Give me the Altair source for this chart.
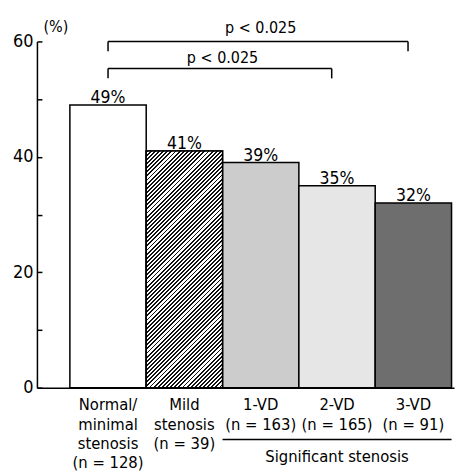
import math
import altair as alt
import pandas as pd

# ---------------- data ----------------
categories = [
    "Normal/|minimal|stenosis|(n = 128)",
    "Mild|stenosis|(n = 39)",
    "1-VD|(n = 163)",
    "2-VD|(n = 165)",
    "3-VD|(n = 91)",
]
values = [49, 41, 39, 35, 32]
value_labels = ["49%", "41%", "39%", "35%", "32%"]

bracket_from = [categories[0], categories[0]]
bracket_to = [categories[4], categories[3]]
bracket_y = [60.0, 55.3]
bracket_tip = [58.3, 53.6]
p_labels = ["p < 0.025", "p < 0.025"]
p_label_y = [61.4, 56.2]

group_label = ["Significant stenosis"]
group_from = [categories[2]]
group_to = [categories[4]]
group_mid = [categories[3]]
group_line_y = [-9.0]
group_text_y = [-12.8]

y_label_values = [0, 20, 40, 60]
y_tick_values = [0, 10, 20, 30, 40, 50, 60]

# ---------------- style ----------------
W, H = 418, 347
PAD_OUTER, ALIGN = 0.232, 0.93
FONT = "Liberation Sans Narrow, Arial Narrow, DejaVu Sans Condensed, sans-serif"
fills = ["#ffffff", "#ffffff", "#cccccc", "#e6e6e6", "#6e6e6e"]

df = pd.DataFrame({"cat": categories, "v": values, "lab": value_labels})
br = pd.DataFrame({"from": bracket_from, "to": bracket_to, "y": bracket_y,
                   "tip": bracket_tip, "p": p_labels, "py": p_label_y})
grp = pd.DataFrame({"from": group_from, "to": group_to, "mid": group_mid,
                    "ly": group_line_y, "ty": group_text_y, "t": group_label})

xscale = alt.Scale(domain=categories, paddingInner=0, paddingOuter=PAD_OUTER, align=ALIGN)
yscale = alt.Scale(domain=[0, 60], nice=False, zero=False)
xaxis = alt.Axis(title=None, labelExpr="split(datum.label, '|')", labelAngle=0,
                 labelFont=FONT, labelFontSize=16.5, labelColor="black",
                 labelLineHeight=19.5, labelBaseline="top", labelPadding=9,
                 tickSize=0, domainColor="black", domainWidth=1.5, labelAlign="center")

# hatch gradient for the "Mild stenosis" bar (diagonal "/" lines)
step = W / (5 + 2 * PAD_OUTER)
bw, bh = step, values[1] / 60 * H
r = bw / bh
b = (1 + r) / (1 + r * r)
a = r * b
n = int(round((bw + bh) / math.sqrt(2) / 2.9))
stops = []
for k in range(n):
    o0, o1, o2 = k / n, (k + 0.45) / n, (k + 1) / n
    stops += [alt.GradientStop(offset=o0, color="#111111"),
              alt.GradientStop(offset=o1, color="#111111"),
              alt.GradientStop(offset=o1, color="#ffffff"),
              alt.GradientStop(offset=o2, color="#ffffff")]
hatch = alt.LinearGradient(gradient="linear", stops=stops, x1=0, y1=0, x2=a, y2=b)

base = alt.Chart(df)

bars = base.mark_bar(stroke="black", strokeWidth=1.5).encode(
    x=alt.X("cat:N", scale=xscale, axis=xaxis, sort=categories),
    y=alt.Y("v:Q", scale=yscale, axis=alt.Axis(
        title="(%)", values=y_label_values, tickSize=0, labelFont=FONT, labelFontSize=18,
        labelColor="black", labelPadding=4, domainColor="black", domainWidth=1.5,
        grid=False, titleAngle=0, titleX=6, titleY=-10, titleAlign="left",
        titleBaseline="alphabetic", titleFont=FONT, titleFontSize=16,
        titleFontWeight="normal", titleColor="black")),
    fill=alt.Fill("cat:N", scale=alt.Scale(domain=categories, range=fills), legend=None),
)

hatched = base.transform_filter(alt.datum.cat == categories[1]).mark_bar(
    fill=hatch, stroke="black", strokeWidth=1.5).encode(
    x=alt.X("cat:N", scale=xscale, axis=xaxis),
    y=alt.Y("v:Q", scale=yscale, axis=alt.Axis(
        orient="right", offset=-W, values=y_tick_values, tickSize=5, tickWidth=1.5,
        tickColor="black", labels=False, domain=False, grid=False, title=None)),
)

vlabels = base.mark_text(dy=-2, baseline="alphabetic", font=FONT, fontSize=17.5,
                         color="black").encode(
    x=alt.X("cat:N", scale=xscale, axis=xaxis),
    y=alt.Y("v:Q", scale=yscale, axis=None),
    text="lab:N",
)

bk = alt.Chart(br)
hline = bk.mark_rule(color="black", strokeWidth=1.5).encode(
    x=alt.X("from:N", scale=xscale, axis=xaxis, bandPosition=0.5),
    x2=alt.X2("to:N", bandPosition=0.43),
    y=alt.Y("y:Q", scale=yscale, axis=None),
)
ltip = bk.mark_rule(color="black", strokeWidth=1.5).encode(
    x=alt.X("from:N", scale=xscale, axis=xaxis, bandPosition=0.5),
    y=alt.Y("y:Q", scale=yscale, axis=None),
    y2="tip:Q",
)
rtip = bk.mark_rule(color="black", strokeWidth=1.5).encode(
    x=alt.X("to:N", scale=xscale, axis=xaxis, bandPosition=0.43),
    y=alt.Y("y:Q", scale=yscale, axis=None),
    y2="tip:Q",
)
ptext1 = bk.transform_filter(alt.datum.to == categories[4]).mark_text(
    baseline="alphabetic", font=FONT, fontSize=16, color="black").encode(
    x=alt.X("mid:N", scale=xscale, axis=xaxis, bandPosition=0.5),
    y=alt.Y("py:Q", scale=yscale, axis=None),
    text="p:N",
).transform_calculate(mid=f"'{categories[2]}'")
ptext2 = bk.transform_filter(alt.datum.to == categories[3]).mark_text(
    baseline="alphabetic", font=FONT, fontSize=16, color="black").encode(
    x=alt.X("mid:N", scale=xscale, axis=xaxis, bandPosition=0.0),
    y=alt.Y("py:Q", scale=yscale, axis=None),
    text="p:N",
).transform_calculate(mid=f"'{categories[2]}'")

g = alt.Chart(grp)
gline = g.mark_rule(color="black", strokeWidth=1.5).encode(
    x=alt.X("from:N", scale=xscale, axis=xaxis, bandPosition=0.0),
    x2=alt.X2("to:N", bandPosition=1.0),
    y=alt.Y("ly:Q", scale=yscale, axis=None),
)
gtext = g.mark_text(baseline="alphabetic", font=FONT, fontSize=16.5, color="black").encode(
    x=alt.X("mid:N", scale=xscale, axis=xaxis, bandPosition=0.5),
    y=alt.Y("ty:Q", scale=yscale, axis=None),
    text="t:N",
)

chart = alt.layer(bars, hatched, vlabels, hline, ltip, rtip, ptext1, ptext2, gline, gtext).resolve_axis(
    y="independent"
).properties(
    width=W, height=H,
    autosize=alt.AutoSizeParams(type="none"),
    padding={"left": 29, "top": 33, "right": 10, "bottom": 87},
    background="white",
).configure_view(stroke=None)

chart.save("out.html", embed_options={"renderer": "svg", "actions": False})
